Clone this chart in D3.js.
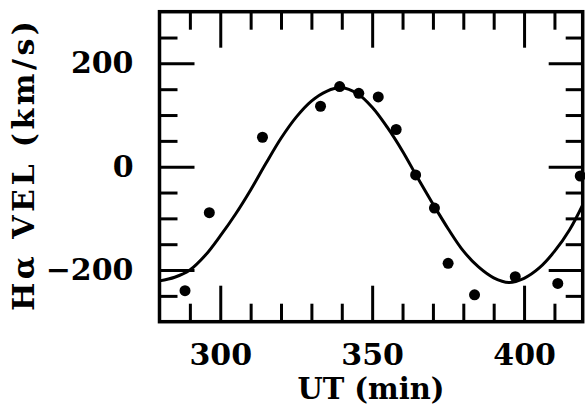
<!DOCTYPE html>
<html>
<head>
<meta charset="utf-8">
<script src="https://cdn.jsdelivr.net/npm/d3@7"></script>
<style>
  body { margin: 0; background: #fff; }
  svg { display: block; }
</style>
</head>
<body>
<svg id="chart" width="585" height="410"></svg>
<script>
// Observed H-alpha radial velocities
const obsTime = [288.4, 296.4, 313.9, 333.0, 339.3, 345.6, 352.0, 357.9, 364.3, 370.5, 375.0, 383.7, 397.1, 411.1, 418.5];
const obsVel  = [-240, -89, 57, 117, 155, 142, 135, 72, -16, -80, -187, -248, -213, -226, -18];

// Fitted velocity curve, sampled along UT
const fitTime = [280, 285, 290, 295, 300, 305, 310, 315, 320, 325, 330, 335, 340, 345, 350, 355, 360, 365, 370, 375, 380, 385, 390, 395, 400, 405, 410, 415, 419.3];
const fitVel  = [-221, -214, -200, -172, -134, -92, -45, 6, 55, 96, 127, 146, 153, 142, 115, 76, 30, -22, -72, -120, -163, -194, -215, -224, -216, -196, -164, -122, -74];

// Axis ticks
const xMajorTicks = [300, 350, 400];
const xMinorTicks = [290, 310, 320, 330, 340, 360, 370, 380, 390, 410];
const yMajorTicks = [-200, 0, 200];
const yMinorTicks = [-250, -150, -100, -50, 50, 100, 150, 250];

const xLabel = "UT (min)";
const yLabel = "H\u03B1 VEL (km/s)";

const box = { left: 159.5, right: 582.7, top: 11.7, bottom: 321.7 };
const FONT = "'DejaVu Serif', 'Liberation Serif', serif";

const svg = d3.select("#chart");

const x = d3.scaleLinear().domain([280, 419.3]).range([box.left, box.right]);
const y = d3.scaleLinear().domain([-300, 300]).range([box.bottom, box.top]);

svg.append("defs").append("clipPath").attr("id", "plotClip")
  .append("rect")
  .attr("x", box.left).attr("y", box.top)
  .attr("width", box.right - box.left).attr("height", box.bottom - box.top);

// Inward-pointing ticks on all four sides
function tickAxis(axisFn, scale, values, size, tx, ty, labels, pad) {
  const a = axisFn(scale).tickValues(values).tickSize(-size).tickPadding(pad || 0);
  if (!labels) a.tickFormat("");
  else a.tickFormat(d3.format("d"));
  const g = svg.append("g").attr("transform", `translate(${tx},${ty})`).call(a);
  g.select(".domain").remove();
  g.selectAll(".tick line").attr("stroke", "#000").attr("stroke-width", 3);
  g.selectAll("text")
    .attr("fill", "#000")
    .style("font-family", FONT)
    .style("font-size", "30px")
    .style("font-weight", "bold");
  return g;
}

tickAxis(d3.axisBottom, x, xMinorTicks, 18, 0, box.bottom, false);
tickAxis(d3.axisBottom, x, xMajorTicks, 36, 0, box.bottom, true, 22);
tickAxis(d3.axisTop, x, xMinorTicks, 18, 0, box.top, false);
tickAxis(d3.axisTop, x, xMajorTicks, 36, 0, box.top, false);

tickAxis(d3.axisLeft, y, yMinorTicks, 18, box.left, 0, false);
tickAxis(d3.axisLeft, y, yMajorTicks, 35, box.left, 0, true, 26);
tickAxis(d3.axisRight, y, yMinorTicks, 17, box.right, 0, false);
tickAxis(d3.axisRight, y, yMajorTicks, 34, box.right, 0, false);

// Frame
svg.append("rect")
  .attr("x", box.left).attr("y", box.top)
  .attr("width", box.right - box.left).attr("height", box.bottom - box.top)
  .attr("fill", "none").attr("stroke", "#000").attr("stroke-width", 3.5);

// Fit curve
const fit = fitTime.map((t, i) => [t, fitVel[i]]);
svg.append("path")
  .datum(fit)
  .attr("clip-path", "url(#plotClip)")
  .attr("fill", "none")
  .attr("stroke", "#000")
  .attr("stroke-width", 3)
  .attr("d", d3.line().x(d => x(d[0])).y(d => y(d[1])).curve(d3.curveCatmullRom.alpha(0.5)));

// Observations
svg.append("g").selectAll("circle")
  .data(obsTime.map((t, i) => [t, obsVel[i]]))
  .join("circle")
  .attr("cx", d => x(d[0]))
  .attr("cy", d => y(d[1]))
  .attr("r", 5.5)
  .attr("fill", "#000");

// Axis titles
svg.append("text")
  .attr("x", 371).attr("y", 399)
  .attr("text-anchor", "middle")
  .style("font-family", FONT).style("font-size", "29px").style("font-weight", "bold")
  .text(xLabel);

svg.append("text")
  .attr("transform", "translate(34,166) rotate(-90)")
  .attr("text-anchor", "middle")
  .attr("textLength", 290)
  .attr("lengthAdjust", "spacing")
  .style("font-family", FONT).style("font-size", "30px").style("font-weight", "bold")
  .text(yLabel);
</script>
</body>
</html>
